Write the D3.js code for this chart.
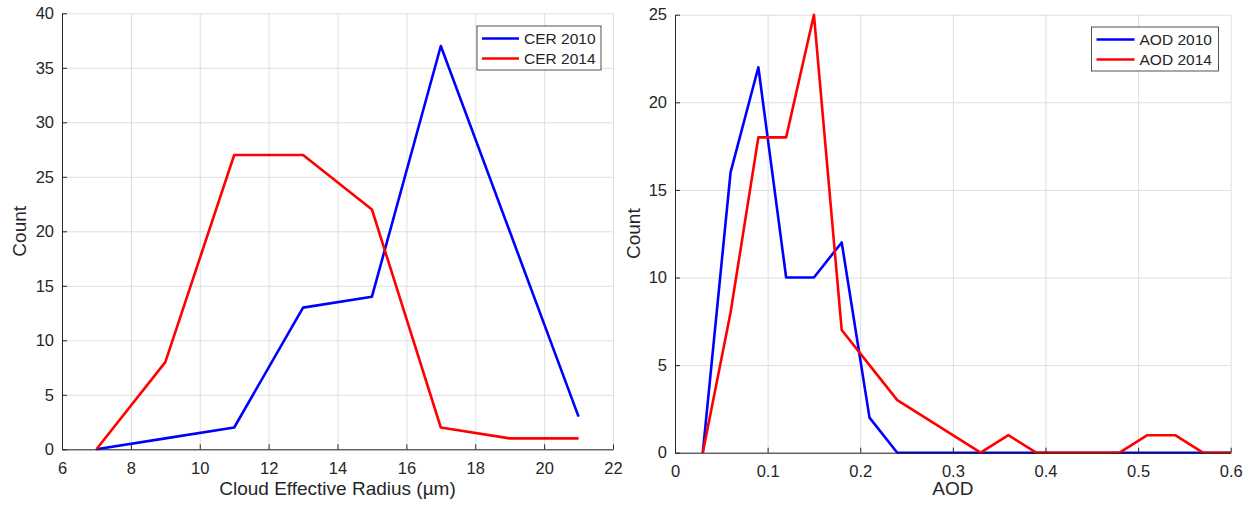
<!DOCTYPE html>
<html>
<head>
<meta charset="utf-8">
<script src="https://cdn.jsdelivr.net/npm/d3@7"></script>
<style>
  body { margin: 0; background: #fff; }
  svg text { font-family: "Liberation Sans", Arial, Helvetica, sans-serif; fill: #262626; }
</style>
</head>
<body>
<div id="chart"></div>
<script>
// data
var cerX    = [7, 9, 11, 13, 15, 17, 19, 21];
var cer2010 = [0, 1, 2, 13, 14, 37, 20, 3];
var cer2014 = [0, 8, 27, 27, 22, 2, 1, 1];

var aodX    = [0.03, 0.06, 0.09, 0.12, 0.15, 0.18, 0.21, 0.24, 0.27, 0.30,
               0.33, 0.36, 0.39, 0.42, 0.45, 0.48, 0.51, 0.54, 0.57, 0.60];
var aod2010 = [0, 16, 22, 10, 10, 12, 2, 0, 0, 0, 0, 0, 0, 0, 0, 0, 0, 0, 0, 0];
var aod2014 = [0, 8, 18, 18, 25, 7, 5, 3, 2, 1, 0, 1, 0, 0, 0, 0, 1, 1, 0, 0];

var cerTicksX = [6, 8, 10, 12, 14, 16, 18, 20, 22];
var cerTicksY = [0, 5, 10, 15, 20, 25, 30, 35, 40];
var aodTicksX = [0, 0.1, 0.2, 0.3, 0.4, 0.5, 0.6];
var aodTicksY = [0, 5, 10, 15, 20, 25];

var W = 1252, H = 505;
var svg = d3.select("#chart").append("svg")
    .attr("width", W)
    .attr("height", H);

function drawPanel(p) {
  var x = d3.scaleLinear().domain([p.ticksX[0], p.ticksX[p.ticksX.length - 1]]).range([p.left, p.right]);
  var y = d3.scaleLinear().domain([p.ticksY[0], p.ticksY[p.ticksY.length - 1]]).range([p.bottom, p.top]);
  var g = svg.append("g");

  // grid
  g.append("g")
    .attr("transform", "translate(0," + p.bottom + ")")
    .call(d3.axisBottom(x).tickValues(p.ticksX).tickSize(-(p.bottom - p.top)).tickFormat(""))
    .call(s => s.select(".domain").remove())
    .selectAll("line").attr("stroke", "#dfdfdf");
  g.append("g")
    .attr("transform", "translate(" + p.left + ",0)")
    .call(d3.axisLeft(y).tickValues(p.ticksY).tickSize(-(p.right - p.left)).tickFormat(""))
    .call(s => s.select(".domain").remove())
    .selectAll("line").attr("stroke", "#dfdfdf");

  // lines
  var line = d3.line().x(d => x(d[0])).y(d => y(d[1]));
  p.series.forEach(function (s) {
    g.append("path")
      .datum(p.xs.map((v, i) => [v, s.values[i]]))
      .attr("fill", "none")
      .attr("stroke", s.color)
      .attr("stroke-width", 2.6)
      .attr("stroke-linejoin", "round")
      .attr("d", line);
  });

  // axes, ticks inside like matlab
  var ax = g.append("g")
    .attr("transform", "translate(0," + p.bottom + ")")
    .call(d3.axisBottom(x).tickValues(p.ticksX).tickSizeInner(-5).tickSizeOuter(0).tickPadding(12.5).tickFormat(d3.format("~g")));
  var ay = g.append("g")
    .attr("transform", "translate(" + p.left + ",0)")
    .call(d3.axisLeft(y).tickValues(p.ticksY).tickSizeInner(-5).tickSizeOuter(0).tickPadding(8).tickFormat(d3.format("~g")));
  [ax, ay].forEach(function (a) {
    a.select(".domain").attr("stroke", "#262626");
    a.selectAll(".tick line").attr("stroke", "#262626");
    a.selectAll(".tick text").style("font-size", "16.5px").attr("fill", "#262626");
  });

  // axis titles
  g.append("text")
    .attr("x", (p.left + p.right) / 2)
    .attr("y", 494.5)
    .attr("text-anchor", "middle")
    .style("font-size", "19px")
    .text(p.xLabel);
  g.append("text")
    .attr("transform", "translate(" + p.yLabelX + "," + ((p.top + p.bottom) / 2) + ") rotate(-90)")
    .attr("text-anchor", "middle")
    .style("font-size", "19px")
    .text("Count");

  // legend
  var lg = g.append("g").attr("transform", "translate(" + p.legend.x + "," + p.legend.y + ")");
  lg.append("rect")
    .attr("width", p.legend.w).attr("height", 44)
    .attr("fill", "#fff").attr("stroke", "#262626").attr("stroke-width", 0.8);
  p.series.forEach(function (s, i) {
    var cy = 12.5 + i * 20;
    lg.append("line")
      .attr("x1", 5).attr("x2", p.legend.lineEnd)
      .attr("y1", cy).attr("y2", cy)
      .attr("stroke", s.color).attr("stroke-width", 2.6);
    lg.append("text")
      .attr("x", p.legend.lineEnd + 5)
      .attr("y", cy + 5.5)
      .style("font-size", "15.5px")
      .text(s.name);
  });
}

drawPanel({
  left: 62, right: 613, top: 13.3, bottom: 449.3,
  xs: cerX, ticksX: cerTicksX, ticksY: cerTicksY,
  xLabel: "Cloud Effective Radius (\u00b5m)", yLabelX: 25.5,
  series: [
    {name: "CER 2010", values: cer2010, color: "#0000ff"},
    {name: "CER 2014", values: cer2014, color: "#ff0000"}
  ],
  legend: {x: 477, y: 26, w: 124, lineEnd: 42}
});

drawPanel({
  left: 675, right: 1230.7, top: 14.7, bottom: 452.7,
  xs: aodX, ticksX: aodTicksX, ticksY: aodTicksY,
  xLabel: "AOD", yLabelX: 639.5,
  series: [
    {name: "AOD 2010", values: aod2010, color: "#0000ff"},
    {name: "AOD 2014", values: aod2014, color: "#ff0000"}
  ],
  legend: {x: 1091.5, y: 27, w: 127, lineEnd: 43}
});
</script>
</body>
</html>
